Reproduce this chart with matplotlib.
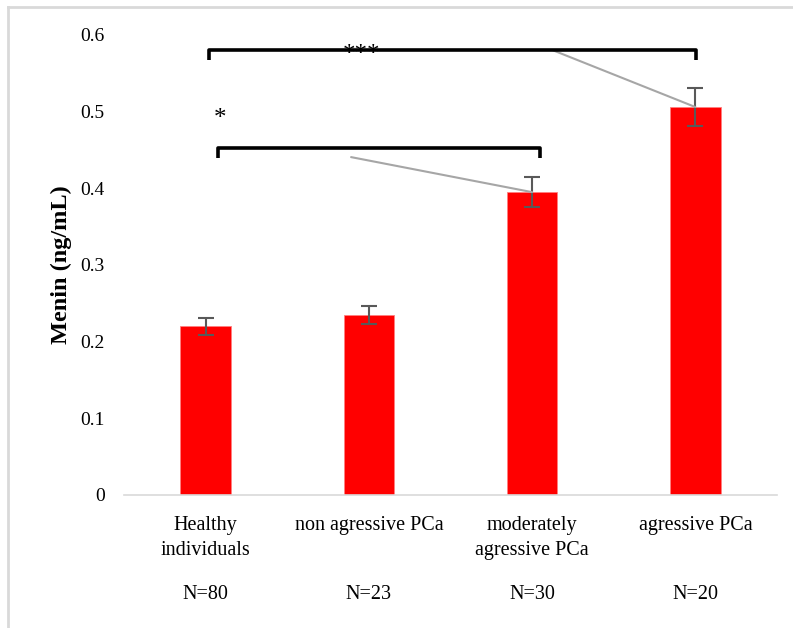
import matplotlib
matplotlib.use("Agg")
import matplotlib.pyplot as plt
from matplotlib.lines import Line2D

plt.rcParams['font.family'] = ['Liberation Serif', 'DejaVu Serif']

categories = ["Healthy\nindividuals", "non agressive PCa",
              "moderately\nagressive PCa", "agressive PCa"]
sample_sizes = ["N=80", "N=23", "N=30", "N=20"]
menin_mean = [0.220, 0.235, 0.395, 0.506]
menin_err = [0.011, 0.012, 0.020, 0.025]
y_ticks = [0, 0.1, 0.2, 0.3, 0.4, 0.5, 0.6]
y_tick_labels = ["0", "0.1", "0.2", "0.3", "0.4", "0.5", "0.6"]

# significance brackets: (left x, right x, bar level, leg end, label, label x, label y,
#                         connector start x, connector start y, target bar)
brackets = [
    (0.021, 3.004, 0.580, 0.568, "***", 0.958, 0.566, 2.128, 0.580, 3),
    (0.077, 2.049, 0.452, 0.439, "*", 0.089, 0.482, 0.891, 0.4407, 2),
]

fig = plt.figure(figsize=(7.93, 6.28), dpi=100)
ax = fig.add_axes([0.1564, 0.2118, 0.8234, 0.7325])

x = list(range(len(categories)))
ax.bar(x, menin_mean, width=0.31, color="#ff0000", edgecolor="#ff8080",
       linewidth=0.6, zorder=2)
ax.errorbar(x, menin_mean, yerr=menin_err, fmt="none", ecolor="#595959",
            elinewidth=1.5, capsize=6, capthick=1.5, zorder=3)

for (x0, x1, level, leg, label, lx, ly, cx, cy, tgt) in brackets:
    ax.text(lx, ly, label, ha="center", va="baseline", fontsize=18,
            color="black", zorder=1)
    ax.plot([cx, tgt], [cy, menin_mean[tgt]], color="#a6a6a6", lw=1.5,
            zorder=4, solid_capstyle="round")
    ax.plot([x0, x0, x1, x1], [leg, level, level, leg], color="black", lw=2.6,
            solid_joinstyle="round", solid_capstyle="butt", zorder=5)

ax.set_xlim(-0.5, 3.5)
ax.set_ylim(0, 0.6)
ax.set_yticks(y_ticks)
ax.set_yticklabels(y_tick_labels, fontsize=14)
ax.set_xticks(x)
ax.set_xticklabels(categories, fontsize=14.5, linespacing=1.45)
ax.tick_params(axis="both", length=0, colors="black")
ax.tick_params(axis="y", pad=14)
ax.tick_params(axis="x", pad=15)

for side in ("top", "right", "left"):
    ax.spines[side].set_visible(False)
ax.spines["bottom"].set_color("#d9d9d9")
ax.spines["bottom"].set_linewidth(1.2)

for xi, n in zip(x, sample_sizes):
    ax.text(xi, -0.13, n, ha="center", va="center", fontsize=14.5,
            transform=ax.transData, clip_on=False)

ax.set_ylabel("Menin (ng/mL)", fontsize=17.5, fontweight="bold")
ax.yaxis.set_label_coords(-0.08, 0.5)

# outer frame (left and top edges)
fx0, fy0 = 7.5 / 793, 1 - 6.5 / 628
fig.add_artist(Line2D([fx0, fx0], [0, fy0], transform=fig.transFigure,
                      color="#d9d9d9", lw=2))
fig.add_artist(Line2D([fx0, 1], [fy0, fy0], transform=fig.transFigure,
                      color="#d9d9d9", lw=2))

fig.savefig("out.png", dpi=100)
